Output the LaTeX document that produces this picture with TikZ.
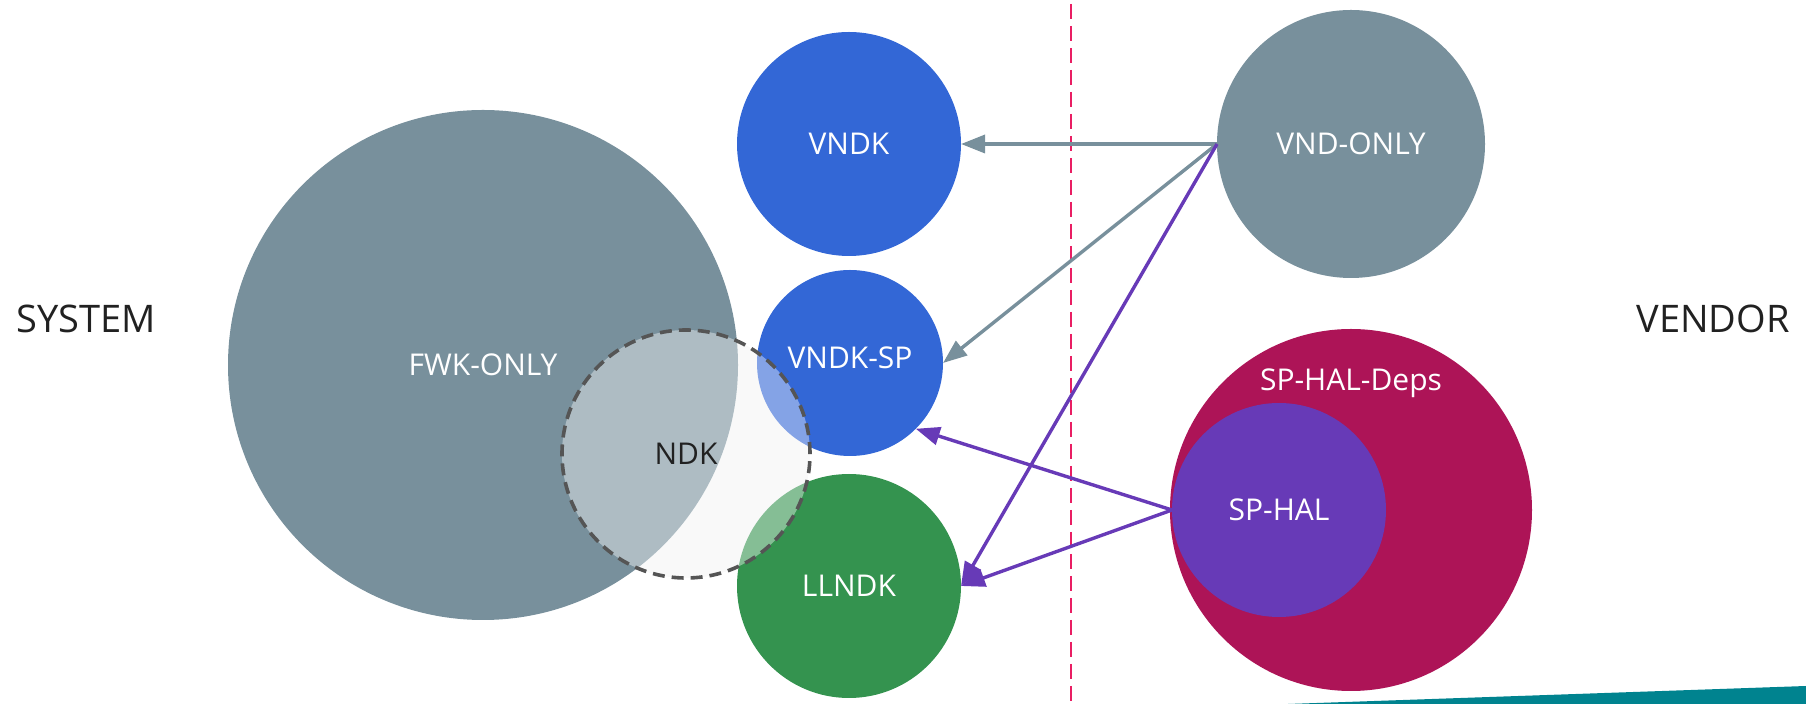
\documentclass[tikz,border=0pt]{standalone}
\usepackage{fontspec}
\setmainfont{Open Sans}
\usetikzlibrary{arrows.meta, calc}
\definecolor{fwkgray}{HTML}{78909C}
\definecolor{vndkblue}{HTML}{3367D6}
\definecolor{llgreen}{HTML}{34934F}
\definecolor{halpurple}{HTML}{673AB7}
\definecolor{depsred}{HTML}{AD1457}
\definecolor{splitpink}{HTML}{E91E63}
\definecolor{ndkline}{HTML}{555555}
\definecolor{ndkback}{HTML}{F5F5F5}
\definecolor{cornerteal}{HTML}{00838F}

\tikzset{
	blob/.style={circle, inner sep=0pt, outer sep=0pt, minimum size=#1pt, text=white, font=\fontsize{15}{18}\selectfont},
	side/.style={font=\fontsize{19}{23}\selectfont, text=black!87},
	grayarrow/.style={draw=fwkgray, line width=1.7pt, -{Triangle[length=12pt,width=9pt]}},
	purplearrow/.style={draw=halpurple, line width=1.7pt, -{Triangle[length=12pt,width=9pt]}},
}

\begin{document}
\begin{tikzpicture}[x=0.5pt, y=-0.5pt]
	\def\rN{124}
	\useasboundingbox (0,0) rectangle (1806,704);

	% partition line and corner
	\coordinate (splittop) at (1071,4);
	\coordinate (splitbot) at (1071,704);
	\draw[splitpink, line width=1pt, dash pattern=on 7.5pt off 3.5pt]	(splittop) -- (splitbot);
	\fill[cornerteal]		(1288,704) -- (1806,686) -- (1806,704) -- cycle;

	% system side
	\fill[ndkback]			(686,454) circle[radius=\rN];
	\node[blob=255, fill=fwkgray]		(fwk) at (483,365) {FWK-ONLY};
	\node[blob=112, fill=vndkblue]		(vndk) at (849,144) {VNDK};
	\node[blob=93, fill=vndkblue]		(vndksp) at (850,363) {\raisebox{5pt}{VNDK-SP}};
	\node[blob=112, fill=llgreen]		(llndk) at (849,586) {LLNDK};
	\node[blob=\rN, fill=white, fill opacity=0.4, text opacity=1, text=black!87,
		draw=ndkline, line width=1.8pt, dash pattern=on 6pt off 3.5pt]	(ndk) at (686,454) {NDK};

	% vendor side
	\node[blob=134, fill=fwkgray]		(vnd) at (1351,144) {VND-ONLY};
	\node[blob=181, fill=depsred]		(deps) at (1351,510) {};
	\node[blob=107, fill=halpurple]		(hal) at (1279,510) {SP-HAL};
	\node[text=white, font=\fontsize{15}{18}\selectfont]	(depslbl) at (1351,383) {SP-HAL-Deps};

	\node[side]	(system) at (86,319) {SYSTEM};
	\node[side]	(vendor) at (1713,319) {VENDOR};

	% dependencies
	\draw[grayarrow]		(vnd.west) -- (vndk.east);
	\draw[grayarrow]		(vnd.west) -- (vndksp.east);
	\draw[purplearrow]		(vnd.west) -- (llndk.east);
	\draw[purplearrow]		(hal.west) -- (vndksp.-45);
	\draw[purplearrow]		(hal.west) -- (llndk.east);
\end{tikzpicture}
\end{document}
